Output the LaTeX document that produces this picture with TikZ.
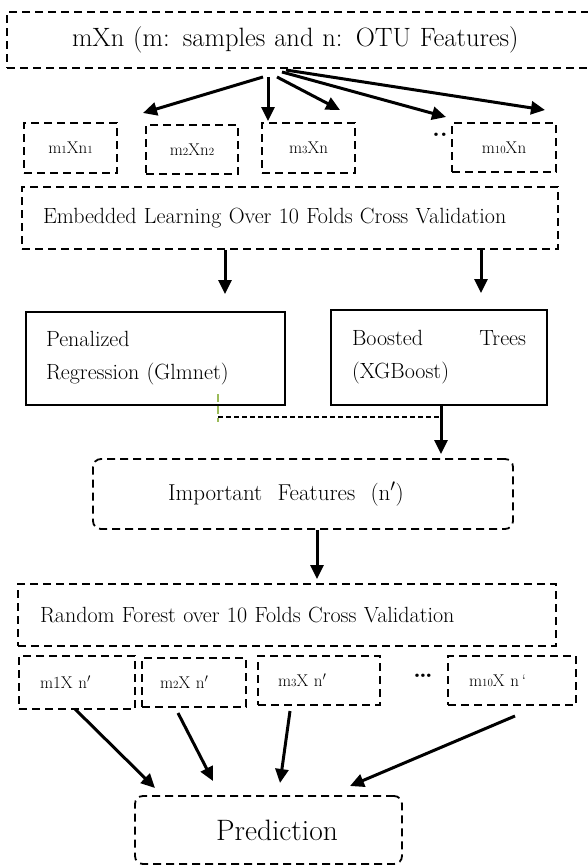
\documentclass[tikz,border=0pt]{standalone}
\usepackage{tikz}
\usetikzlibrary{arrows.meta}

\definecolor{verde}{RGB}{155,187,89}
\newcommand{\dig}[1]{{\fontsize{11}{11}\selectfont #1}}

\begin{document}
\begin{tikzpicture}[x=1pt,y=-1pt,
  caja/.style={draw, line width=1.8pt, dash pattern=on 8pt off 5pt, inner ysep=0pt},
  solida/.style={draw, line width=1.6pt, inner ysep=0pt},
  flecha/.style={-{Triangle[length=14pt,width=13pt]}, line width=3pt},
  chico/.style={font=\fontsize{17}{17}\selectfont},
  grande/.style={font=\fontsize{22}{33}\selectfont},
  puntos/.style={inner sep=0pt, font=\bfseries\fontsize{24}{24}\selectfont}]
  \useasboundingbox (0,0) rectangle (587,868);

  % Datos de entrada
  \node[caja, minimum width=588pt, minimum height=56pt, inner xsep=65pt,
    text width=458pt, align=left, font=\fontsize{26.5}{26.5}\selectfont]
    (datos) at (301,40) {mXn (m: samples and n: OTU Features)};

  % Subconjuntos
  \node[caja, chico, minimum width=93pt, minimum height=50pt] (b1) at (70.5,148) {m\dig{1}Xn\dig{1}};
  \node[caja, chico, minimum width=92pt, minimum height=49pt] (b2) at (192,149.5) {m\dig{2}Xn\dig{2}};
  \node[caja, chico, minimum width=93pt, minimum height=50pt] (b3) at (308.5,148) {m\dig{3}Xn};
  \node[caja, chico, minimum width=104pt, minimum height=49pt] (b4) at (504,147.5) {m\dig{10}Xn};
  \node[puntos] (pts1) at (440,135) {..};

  % Flechas desde los datos
  \foreach \sx/\sy/\ex/\ey [count=\i] in {263/77/143/113, 268/77/268/121,
      277/77/340/110, 282/72/446/117, 286/70/545/110}{
    \coordinate (s\i) at (\sx,\sy);
    \coordinate (t\i) at (\ex,\ey);
    \draw[flecha] (s\i) -- (t\i);
  }

  % Aprendizaje embebido
  \node[caja, grande, minimum width=536pt, minimum height=62pt, inner xsep=21pt,
    text width=494pt, align=left] (emb) at (290,218)
    {Embedded Learning Over 10 Folds Cross Validation};
  \coordinate (e1) at (225,294);
  \coordinate (e2) at (481,293);
  \draw[flecha] (e1 |- emb.south) -- (e1);
  \draw[flecha] (e2 |- emb.south) -- (e2);

  % Metodos
  \node[solida, grande, minimum width=259pt, minimum height=93pt, inner xsep=20pt,
    text width=219pt, align=left] (pen) at (155.5,358.5)
    {Penalized\\Regression (Glmnet)};
  \node[solida, grande, minimum width=216pt, minimum height=95pt, inner xsep=21pt,
    text width=174pt, align=left] (boost) at (439,357.5)
    {Boosted\hfill Trees\\(XGBoost)};

  % Union de los metodos
  \coordinate (g1) at (218,394);
  \coordinate (g2) at (218,422);
  \coordinate (g3) at (218,417);
  \coordinate (i1) at (441,454);
  \draw[verde, line width=1.3pt, dash pattern=on 8pt off 4pt] (g1) -- (g2);
  \draw[line width=1.3pt, dash pattern=on 5pt off 3pt] (g3) -- (g3 -| i1);
  \draw[flecha] (i1 |- boost.south) -- (i1);

  % Caracteristicas importantes
  \node[caja, rounded corners=8pt, minimum width=420pt, minimum height=70pt,
    inner xsep=75pt, text width=270pt, align=left, font=\fontsize{23}{23}\selectfont]
    (imp) at (303,494) {Important\ \ Features\ \ (n$'$)};
  \coordinate (r1) at (317,579);
  \draw[flecha] (r1 |- imp.south) -- (r1);

  % Bosque aleatorio
  \node[caja, grande, minimum width=538pt, minimum height=62pt, inner xsep=22pt,
    text width=494pt, align=left] (rf) at (287,615)
    {Random Forest over 10 Folds Cross Validation};

  % Subconjuntos reducidos
  \node[caja, chico, minimum width=116pt, minimum height=53pt, inner xsep=21pt,
    text width=74pt, align=left] (c1) at (77,682.5) {m1X n$'$};
  \node[caja, chico, minimum width=104pt, minimum height=49pt, inner xsep=18pt,
    text width=68pt, align=left] (c2) at (194,682.5) {m\dig{2}X n$'$};
  \node[caja, chico, minimum width=122pt, minimum height=49pt, inner xsep=20pt,
    text width=82pt, align=left] (c3) at (319,680.5) {m\dig{3}X n$'$};
  \node[caja, chico, minimum width=128pt, minimum height=49pt, inner xsep=21pt,
    text width=86pt, align=left] (c4) at (512,680.5) {m\dig{10}X n\,`};
  \node[puntos] (pts2) at (423,676) {\dots};

  % Prediccion
  \node[caja, rounded corners=8pt, minimum width=267pt, minimum height=68pt,
    font=\fontsize{29.5}{29.5}\selectfont] (pred) at (268.5,830) {\hspace{17pt}Prediction};

  % Flechas hacia la prediccion
  \foreach \sx/\sy/\ex/\ey [count=\i] in {75/709/155/788, 178/713/213/781,
      290/711/280/783, 515/716/350/786}{
    \coordinate (u\i) at (\sx,\sy);
    \coordinate (v\i) at (\ex,\ey);
    \draw[flecha] (u\i) -- (v\i);
  }
\end{tikzpicture}
\end{document}
